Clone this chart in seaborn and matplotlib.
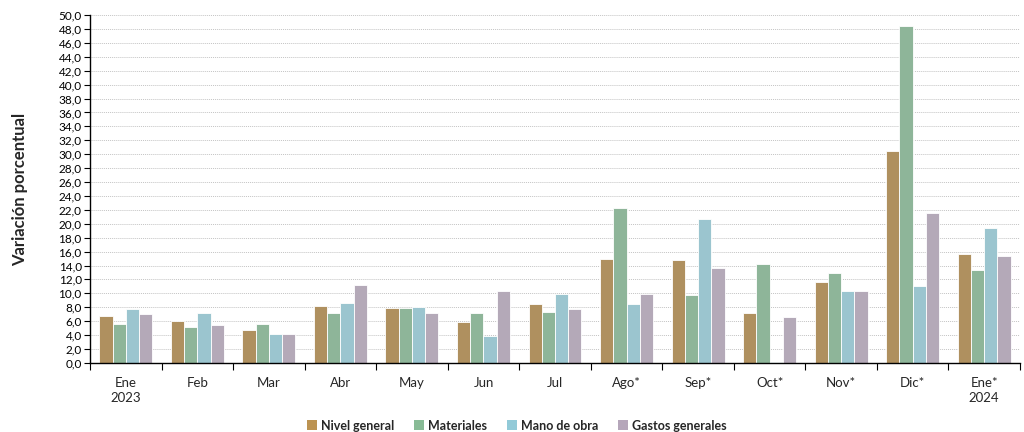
import matplotlib
matplotlib.use("Agg")
import matplotlib.pyplot as plt
import seaborn as sns
import pandas as pd
import numpy as np
from matplotlib.ticker import FuncFormatter, MultipleLocator, FixedLocator
from matplotlib.patches import Patch

months = ["Ene\n2023", "Feb", "Mar", "Abr", "May", "Jun", "Jul", "Ago*", "Sep*",
          "Oct*", "Nov*", "Dic*", "Ene*\n2024"]
nivel_general = [6.7, 6.0, 4.7, 8.2, 7.9, 5.9, 8.5, 14.9, 14.8, 7.1, 11.6, 30.5, 15.6]
materiales = [5.6, 5.2, 5.6, 7.2, 7.9, 7.2, 7.3, 22.3, 9.7, 14.2, 12.9, 48.5, 13.3]
mano_de_obra = [7.8, 7.2, 4.1, 8.6, 8.0, 3.8, 9.9, 8.5, 20.7, 0.1, 10.3, 11.0, 19.4]
gastos_generales = [7.0, 5.4, 4.1, 11.2, 7.2, 10.4, 7.8, 9.9, 13.7, 6.6, 10.3, 21.5, 15.3]
series_names = ["Nivel general", "Materiales", "Mano de obra", "Gastos generales"]
colors = ["#BC9352", "#88BB96", "#92CAD8", "#B5A6BA"]

rows = []
for name, vals in zip(series_names, [nivel_general, materiales, mano_de_obra, gastos_generales]):
    for m, v in zip(months, vals):
        rows.append({"Mes": m, "Serie": name, "Valor": v})
df = pd.DataFrame(rows)

sns.set_theme(style="white")
plt.rcParams["font.family"] = ["Lato", "DejaVu Sans"]

fig = plt.figure(figsize=(10.24, 4.32), dpi=100)
ax = fig.add_axes([0.088, 0.16, 0.908, 0.805])

sns.barplot(data=df, x="Mes", y="Valor", hue="Serie", order=months,
            hue_order=series_names, palette=colors, width=0.74, ax=ax,
            edgecolor="white", linewidth=0.6, legend=False)

ax.set_ylim(0, 50)
ax.set_xlim(-0.5, len(months) - 0.5)
ax.yaxis.set_major_locator(MultipleLocator(2))
ax.yaxis.set_major_formatter(FuncFormatter(lambda v, p: f"{v:.1f}".replace(".", ",")))
ax.grid(axis="y", color="#c4c4c4", linestyle=(0, (1, 1)), linewidth=0.7)
ax.set_axisbelow(True)

for s in ["top", "right"]:
    ax.spines[s].set_visible(False)
ax.spines["left"].set_color("black")
ax.spines["bottom"].set_color("black")
ax.spines["left"].set_linewidth(1.0)
ax.spines["bottom"].set_linewidth(1.0)

ax.tick_params(axis="y", left=True, length=4, width=0.8, labelsize=8.5, colors="black", pad=2)
ax.tick_params(axis="x", which="major", bottom=False, labelsize=9.5, pad=4)
ax.xaxis.set_minor_locator(FixedLocator(np.arange(-0.5, len(months), 1.0)))
ax.tick_params(axis="x", which="minor", bottom=True, length=5, width=0.8, color="black")
for lbl in ax.get_xticklabels():
    lbl.set_linespacing(1.3)
    lbl.set_verticalalignment("top")

ax.set_xlabel("")
ax.set_ylabel("Variación porcentual", fontsize=12, fontweight="bold", labelpad=22)

handles = [Patch(facecolor=c, edgecolor="none") for c in colors]
fig.legend(handles, series_names, loc="lower center", ncol=4, frameon=False,
           bbox_to_anchor=(0.505, -0.025), prop={"weight": "bold", "size": 9},
           handlelength=0.8, handleheight=0.8, handletextpad=0.3, columnspacing=1.6)

fig.savefig("out.png", dpi=100)
